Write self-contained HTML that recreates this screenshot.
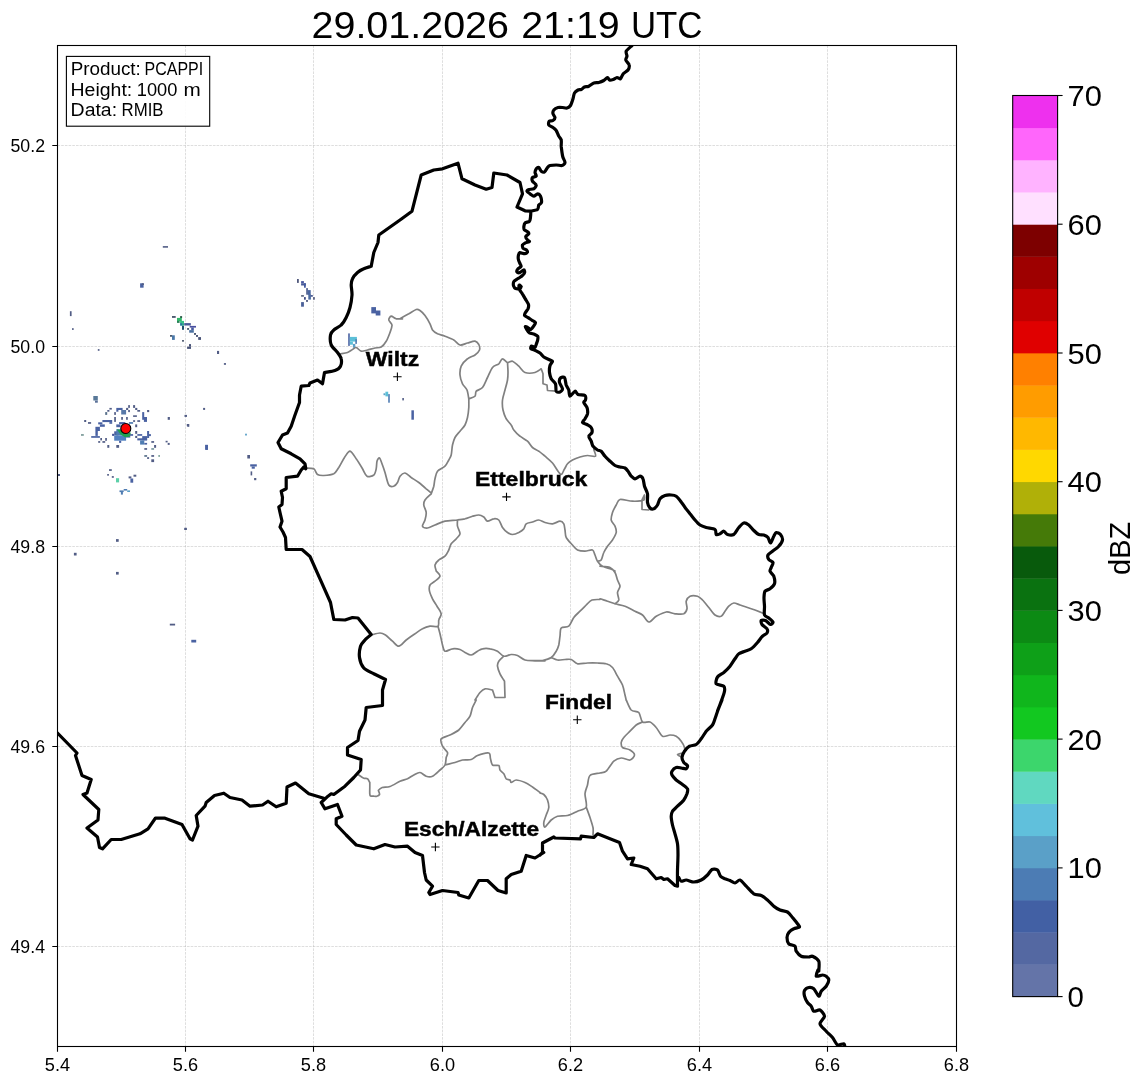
<!DOCTYPE html><html><head><meta charset="utf-8"><style>html,body{margin:0;padding:0;background:#fff}</style></head><body><svg width="1145" height="1084" viewBox="0 0 1145 1084" style="display:block;will-change:transform;font-family:'Liberation Sans',sans-serif">
<rect width="1145" height="1084" fill="#fff"/>
<defs><clipPath id="ax"><rect x="57.5" y="45.5" width="899.0" height="1001.0"/></clipPath></defs>
<path d="M185.5 45.5V1046.5M313.5 45.5V1046.5M442.5 45.5V1046.5M570.5 45.5V1046.5M699.5 45.5V1046.5M827.5 45.5V1046.5M57.5 946.5H956.5M57.5 746.5H956.5M57.5 546.5H956.5M57.5 346.5H956.5M57.5 145.5H956.5" stroke="#b0b0b0" stroke-opacity="0.6" stroke-width="0.7" stroke-dasharray="2.6 1.1" fill="none"/>
<g clip-path="url(#ax)">
<g><rect x="167.7" y="417.0" width="2.2" height="2.8" fill="#525d85"/><rect x="165.6" y="440.8" width="2.0" height="1.6" fill="#525d85"/><rect x="167.7" y="442.9" width="2.0" height="2.0" fill="#525d85"/><rect x="184.5" y="414.9" width="2.5" height="2.0" fill="#525d85"/><rect x="187.3" y="424.0" width="2.0" height="2.8" fill="#525d85"/><rect x="203.1" y="407.9" width="2.0" height="2.0" fill="#525d85"/><rect x="205.4" y="445.0" width="2.5" height="4.9" fill="#4a62a2"/><rect x="109.0" y="469.2" width="2.8" height="1.7" fill="#525d85"/><rect x="107.2" y="474.0" width="1.7" height="1.7" fill="#525d85"/><rect x="111.8" y="476.1" width="2.0" height="1.7" fill="#525d85"/><rect x="116.0" y="478.2" width="3.1" height="4.2" fill="#5cd0a8"/><rect x="128.6" y="476.4" width="2.8" height="2.0" fill="#525d85"/><rect x="130.4" y="478.5" width="2.8" height="4.2" fill="#4a62a2"/><rect x="133.5" y="474.7" width="2.8" height="2.0" fill="#525d85"/><rect x="119.5" y="490.4" width="4.2" height="1.7" fill="#4f7cb2"/><rect x="123.7" y="489.0" width="3.5" height="1.6" fill="#4f7cb2"/><rect x="120.9" y="491.8" width="2.0" height="2.8" fill="#4f7cb2"/><rect x="127.2" y="490.4" width="2.8" height="1.6" fill="#5aa0c8"/><rect x="58.0" y="474.0" width="2.0" height="2.0" fill="#525d85"/><rect x="93.3" y="396.0" width="4.5" height="4.5" fill="#587898"/><rect x="95.0" y="400.6" width="2.8" height="2.1" fill="#5a7098"/><rect x="109.4" y="407.9" width="2.4" height="1.7" fill="#525d85"/><rect x="107.3" y="410.0" width="2.1" height="1.7" fill="#525d85"/><rect x="105.2" y="412.1" width="2.0" height="2.8" fill="#58708a"/><rect x="116.3" y="407.9" width="6.3" height="2.1" fill="#4a62a2"/><rect x="116.3" y="410.0" width="2.1" height="1.7" fill="#4a62a2"/><rect x="121.2" y="410.0" width="4.9" height="4.5" fill="#5878a8"/><rect x="114.2" y="412.1" width="1.7" height="2.8" fill="#525d85"/><rect x="126.1" y="407.9" width="2.1" height="2.1" fill="#525d85"/><rect x="128.2" y="405.1" width="1.7" height="2.8" fill="#525d85"/><rect x="128.2" y="410.0" width="1.7" height="2.1" fill="#525d85"/><rect x="133.1" y="405.1" width="2.0" height="2.8" fill="#525d85"/><rect x="135.2" y="407.9" width="2.1" height="2.1" fill="#525d85"/><rect x="137.3" y="410.0" width="2.8" height="1.7" fill="#525d85"/><rect x="147.1" y="410.0" width="2.1" height="2.1" fill="#525d85"/><rect x="133.1" y="415.3" width="3.8" height="1.6" fill="#525d85"/><rect x="142.2" y="412.1" width="2.0" height="7.7" fill="#4a62a2"/><rect x="143.9" y="417.0" width="3.1" height="4.9" fill="#4a62a2"/><rect x="114.2" y="417.0" width="1.7" height="4.9" fill="#525d85"/><rect x="121.2" y="417.0" width="1.7" height="2.8" fill="#525d85"/><rect x="126.1" y="417.0" width="1.7" height="2.8" fill="#525d85"/><rect x="133.1" y="420.2" width="2.0" height="1.7" fill="#525d85"/><rect x="137.3" y="420.2" width="2.8" height="1.7" fill="#525d85"/><rect x="135.2" y="424.4" width="2.0" height="2.8" fill="#525d85"/><rect x="102.4" y="420.0" width="9.8" height="2.1" fill="#4a62a2"/><rect x="109.4" y="422.1" width="2.8" height="1.7" fill="#4a62a2"/><rect x="98.2" y="422.3" width="4.2" height="2.1" fill="#4a62a2"/><rect x="99.9" y="424.4" width="4.9" height="2.4" fill="#4a62a2"/><rect x="95.4" y="426.8" width="4.5" height="4.2" fill="#4a62a2"/><rect x="95.4" y="431.0" width="2.4" height="4.9" fill="#4a62a2"/><rect x="91.2" y="436.1" width="8.7" height="1.7" fill="#4a62a2"/><rect x="100.3" y="438.0" width="1.7" height="2.4" fill="#525d85"/><rect x="105.2" y="438.0" width="1.7" height="2.8" fill="#525d85"/><rect x="102.4" y="441.1" width="2.8" height="1.7" fill="#525d85"/><rect x="98.2" y="441.1" width="2.0" height="1.7" fill="#525d85"/><rect x="84.2" y="420.0" width="2.0" height="2.0" fill="#525d85"/><rect x="88.0" y="422.1" width="3.1" height="1.7" fill="#525d85"/><rect x="81.0" y="434.1" width="2.8" height="1.7" fill="#7a9a98"/><rect x="119.1" y="422.1" width="6.3" height="2.1" fill="#4a62a2"/><rect x="116.3" y="424.4" width="4.2" height="2.8" fill="#4a62a2"/><rect x="128.9" y="422.1" width="4.2" height="1.7" fill="#4f7cb2"/><rect x="114.2" y="431.3" width="4.2" height="4.2" fill="#4a62a2"/><rect x="112.1" y="433.8" width="2.1" height="2.1" fill="#3f5294"/><rect x="114.2" y="435.5" width="11.9" height="5.2" fill="#5080c0"/><rect x="116.3" y="429.2" width="8.4" height="6.3" fill="#4f7cb2"/><rect x="126.1" y="435.5" width="4.2" height="2.1" fill="#4a62a2"/><rect x="130.0" y="434.1" width="3.1" height="1.7" fill="#4a62a2"/><rect x="119.1" y="440.8" width="2.1" height="2.1" fill="#4a62a2"/><rect x="135.2" y="431.0" width="2.0" height="2.8" fill="#525d85"/><rect x="135.2" y="435.9" width="2.0" height="2.1" fill="#525d85"/><rect x="137.3" y="434.1" width="4.9" height="1.7" fill="#4a62a2"/><rect x="147.1" y="431.0" width="2.0" height="7.0" fill="#4a62a2"/><rect x="148.8" y="434.1" width="2.1" height="2.0" fill="#4a62a2"/><rect x="142.2" y="436.1" width="4.9" height="4.2" fill="#4a62a2"/><rect x="137.3" y="438.3" width="9.8" height="2.1" fill="#4a62a2"/><rect x="140.1" y="440.4" width="4.2" height="4.2" fill="#4f7cb2"/><rect x="144.3" y="442.9" width="2.8" height="1.7" fill="#4a62a2"/><rect x="151.3" y="441.1" width="2.8" height="1.7" fill="#525d85"/><rect x="154.1" y="445.0" width="2.0" height="2.8" fill="#525d85"/><rect x="144.3" y="448.1" width="2.8" height="1.7" fill="#525d85"/><rect x="151.3" y="448.1" width="2.8" height="1.7" fill="#7a9aa0"/><rect x="107.3" y="445.0" width="2.0" height="2.8" fill="#525d85"/><rect x="116.3" y="445.0" width="2.8" height="2.8" fill="#525d85"/><rect x="144.3" y="455.1" width="2.8" height="1.7" fill="#58708a"/><rect x="147.1" y="457.2" width="2.0" height="1.7" fill="#525d85"/><rect x="151.3" y="455.1" width="2.8" height="1.7" fill="#525d85"/><rect x="151.3" y="459.3" width="2.8" height="2.8" fill="#525d85"/><rect x="158.3" y="455.1" width="1.7" height="1.7" fill="#7aa098"/><rect x="162.8" y="246.1" width="5.2" height="1.6" fill="#525d85"/><rect x="140.1" y="283.3" width="3.5" height="4.4" fill="#4a62a2"/><rect x="141.8" y="283.3" width="2.1" height="1.7" fill="#525d85"/><rect x="69.9" y="311.2" width="1.7" height="4.9" fill="#525d85"/><rect x="72.0" y="328.2" width="1.7" height="1.7" fill="#525d85"/><rect x="97.8" y="349.1" width="1.7" height="1.7" fill="#525d85"/><rect x="217.0" y="350.9" width="2.1" height="3.1" fill="#525d85"/><rect x="223.9" y="363.1" width="2.1" height="1.7" fill="#525d85"/><rect x="172.0" y="316.1" width="3.7" height="1.7" fill="#3a4a60"/><rect x="180.1" y="316.1" width="2.0" height="2.0" fill="#2a5a48"/><rect x="177.0" y="317.9" width="4.8" height="3.1" fill="#30b868"/><rect x="177.0" y="320.9" width="2.6" height="2.0" fill="#2a8058"/><rect x="180.1" y="320.9" width="3.9" height="2.6" fill="#38c088"/><rect x="180.1" y="323.1" width="2.4" height="2.6" fill="#207898"/><rect x="182.0" y="323.1" width="2.0" height="2.6" fill="#30a890"/><rect x="182.0" y="325.9" width="2.0" height="3.9" fill="#1f4f70"/><rect x="184.2" y="323.1" width="6.6" height="2.4" fill="#485898"/><rect x="189.7" y="325.9" width="6.3" height="1.7" fill="#4a4fa0"/><rect x="191.2" y="327.5" width="2.6" height="2.6" fill="#485aa0"/><rect x="189.2" y="330.1" width="4.6" height="2.6" fill="#4a70a0"/><rect x="187.1" y="328.1" width="2.0" height="1.7" fill="#3a4a60"/><rect x="194.0" y="333.1" width="2.0" height="1.7" fill="#3a4a68"/><rect x="196.0" y="335.1" width="2.0" height="1.7" fill="#3a4468"/><rect x="198.2" y="337.1" width="2.8" height="2.8" fill="#4a5478"/><rect x="170.0" y="335.1" width="2.2" height="1.6" fill="#3a4a60"/><rect x="172.0" y="335.3" width="2.8" height="4.6" fill="#4a78a8"/><rect x="182.0" y="340.0" width="2.0" height="1.7" fill="#5a6478"/><rect x="189.0" y="344.1" width="2.0" height="2.6" fill="#4a5478"/><rect x="187.1" y="346.7" width="3.9" height="2.2" fill="#4a5478"/><rect x="371.3" y="307.1" width="4.7" height="6.3" fill="#4a62a2"/><rect x="375.7" y="310.5" width="4.7" height="5.0" fill="#4a62a2"/><rect x="348.2" y="333.4" width="1.6" height="12.5" fill="#4a62a2"/><rect x="349.8" y="336.9" width="7.1" height="4.7" fill="#5cc0d8"/><rect x="349.8" y="341.6" width="3.1" height="3.1" fill="#5cc0d8"/><rect x="352.9" y="343.9" width="2.4" height="3.9" fill="#5aa0c8"/><rect x="355.3" y="339.2" width="1.6" height="4.7" fill="#4f7cb2"/><rect x="383.5" y="393.3" width="1.9" height="1.9" fill="#5aa0c8"/><rect x="385.4" y="391.7" width="2.8" height="4.7" fill="#5cc0d8"/><rect x="388.2" y="394.1" width="1.6" height="8.6" fill="#4f7cb2"/><rect x="402.3" y="398.0" width="1.6" height="2.4" fill="#525d85"/><rect x="411.4" y="410.3" width="2.5" height="9.4" fill="#4a62a2"/><rect x="186.8" y="424.0" width="2.2" height="2.2" fill="#525d85"/><rect x="205.2" y="444.8" width="2.7" height="4.9" fill="#4a62a2"/><rect x="245.1" y="433.7" width="1.8" height="1.8" fill="#5aa0c8"/><rect x="247.3" y="455.0" width="2.7" height="3.5" fill="#525d85"/><rect x="250.2" y="464.3" width="6.6" height="2.2" fill="#4a62a2"/><rect x="251.7" y="466.5" width="3.1" height="2.2" fill="#4a62a2"/><rect x="250.6" y="471.4" width="1.6" height="4.0" fill="#525d85"/><rect x="254.1" y="478.0" width="2.2" height="2.2" fill="#525d85"/><rect x="184.2" y="527.8" width="2.7" height="2.2" fill="#525d85"/><rect x="116.0" y="539.1" width="2.7" height="2.7" fill="#525d85"/><rect x="73.9" y="552.8" width="2.7" height="2.7" fill="#525d85"/><rect x="116.0" y="571.9" width="2.7" height="2.7" fill="#525d85"/><rect x="169.8" y="623.7" width="5.3" height="1.8" fill="#525d85"/><rect x="191.3" y="639.8" width="4.9" height="2.7" fill="#4a62a2"/><rect x="297.0" y="279.0" width="1.8" height="3.9" fill="#50587c"/><rect x="301.1" y="281.1" width="2.8" height="2.2" fill="#4a58a0"/><rect x="301.1" y="283.3" width="4.8" height="2.2" fill="#485a98"/><rect x="304.0" y="283.3" width="1.8" height="4.4" fill="#455aa0"/><rect x="306.2" y="288.1" width="1.7" height="6.6" fill="#506090"/><rect x="307.7" y="290.1" width="3.0" height="4.8" fill="#4a66a0"/><rect x="308.3" y="294.4" width="2.6" height="5.2" fill="#4a6aa0"/><rect x="310.8" y="295.1" width="2.0" height="1.6" fill="#3a4a88"/><rect x="301.1" y="295.1" width="2.8" height="1.6" fill="#556078"/><rect x="304.0" y="297.1" width="1.8" height="2.6" fill="#3f4a80"/><rect x="306.1" y="300.1" width="1.8" height="1.7" fill="#3a4570"/><rect x="313.1" y="297.1" width="1.7" height="2.6" fill="#50587c"/><rect x="301.1" y="302.1" width="2.8" height="4.6" fill="#4a6098"/><path d="M116.8 429.3L120.5 434.5 125 437.3 129.5 436.8 131 432.5 126 434 121.5 430Z" fill="#1fa050"/></g>
<path d="M400.0 318.8C401.3 318.0 406.3 315.1 408.8 313.8C411.2 312.4 414.6 310.0 416.2 309.5C417.9 309.0 418.7 309.6 420.0 310.5C421.3 311.4 423.5 313.5 425.0 315.5C426.5 317.5 428.9 321.6 430.0 323.8C431.1 325.9 431.4 328.5 432.5 330.0C433.6 331.5 435.6 332.8 437.5 333.8C439.4 334.7 442.6 335.3 445.0 336.2C447.4 337.2 451.5 338.7 453.8 340.0C456.0 341.3 457.9 344.6 460.0 345.0C462.1 345.4 465.2 343.6 467.5 343.0C469.8 342.4 473.3 341.0 475.0 341.2C476.7 341.5 478.1 343.2 478.8 344.5C479.4 345.8 480.1 348.4 479.5 350.0C478.9 351.6 476.8 353.7 475.0 355.0C473.2 356.3 469.6 357.1 467.5 358.8C465.4 360.4 462.4 363.8 461.2 366.2C460.1 368.7 459.8 372.4 460.0 375.0C460.2 377.6 461.4 381.5 462.5 383.8C463.6 386.0 466.1 387.8 467.0 390.0C467.9 392.2 468.5 397.4 468.8 398.8M468.8 398.8C469.7 398.4 473.9 397.4 475.0 396.2C476.1 395.1 475.1 392.6 476.2 391.2C477.4 389.9 480.8 389.6 482.5 387.5C484.2 385.4 486.0 380.5 487.5 377.5C489.0 374.5 490.8 369.6 492.5 367.5C494.2 365.4 497.2 365.1 498.8 363.8C500.2 362.4 501.2 358.9 502.5 358.8C503.8 358.6 506.0 362.1 507.5 362.5C509.0 362.9 510.8 360.7 512.5 361.2C514.2 361.8 516.9 364.6 518.8 366.2C520.6 367.9 522.6 371.6 525.0 372.5C527.4 373.4 532.6 373.1 535.0 372.5C537.4 371.9 540.3 369.3 541.2 368.8M541.2 368.8 543.0 373.8 543.0 383.8 547.0 385.0 547.5 390.5 556.2 391.2M507.5 362.5C507.6 364.0 508.0 369.9 508.0 372.5C508.0 375.1 507.9 377.4 507.5 380.0C507.1 382.6 505.8 387.0 505.0 390.0C504.2 393.0 502.8 397.0 502.5 400.0C502.2 403.0 502.4 407.2 503.0 410.0C503.6 412.8 505.0 416.5 506.2 418.8C507.5 421.0 510.1 423.3 511.2 425.0C512.4 426.7 512.4 428.3 513.8 430.0C515.1 431.7 517.9 434.6 520.0 436.2C522.1 437.9 525.6 439.6 527.5 441.2C529.4 442.9 530.8 446.0 532.5 447.5C534.2 449.0 536.9 449.9 538.8 451.2C540.6 452.6 542.9 454.5 545.0 456.2C547.1 458.0 550.2 460.3 552.5 463.0C554.8 465.7 558.7 473.3 560.5 474.2C562.3 475.2 563.2 471.1 564.2 469.5C565.3 467.9 566.3 465.2 567.5 463.8C568.7 462.3 570.6 461.0 572.5 460.0C574.4 459.0 577.8 457.7 580.0 457.0C582.2 456.3 585.2 455.6 587.5 455.5C589.8 455.4 594.6 457.1 595.5 456.2C596.4 455.4 594.0 450.5 593.8 449.5M468.8 398.8C468.8 400.1 468.9 404.7 468.8 407.5C468.6 410.3 468.1 414.9 467.5 417.5C466.9 420.1 466.1 422.9 465.0 425.0C463.9 427.1 461.5 429.4 460.0 431.2C458.5 433.1 456.1 435.4 455.0 437.5C453.9 439.6 453.1 442.4 452.5 445.0C451.9 447.6 451.8 452.8 451.2 455.0C450.7 457.2 449.7 458.3 448.8 460.0C447.8 461.7 446.7 464.6 445.0 466.2C443.3 467.9 439.0 469.4 437.5 471.2C436.0 473.1 435.6 476.5 435.0 478.8C434.4 481.0 434.3 484.0 433.8 486.2C433.2 488.5 431.6 492.6 431.2 493.8M431.2 493.8C430.3 494.7 426.1 498.3 425.0 500.0C423.9 501.7 423.6 503.1 423.8 505.0C423.9 506.9 426.1 510.2 426.2 512.5C426.4 514.8 425.6 517.9 425.0 520.0C424.4 522.1 422.1 525.0 422.5 526.2C422.9 527.5 425.6 528.2 427.5 528.0C429.4 527.8 432.4 526.0 435.0 525.0C437.6 524.0 441.6 522.0 445.0 521.2C448.4 520.5 454.5 520.4 457.5 520.0C460.5 519.6 462.8 519.3 465.0 518.8C467.2 518.2 470.4 516.8 472.5 516.2C474.6 515.7 477.1 514.9 478.8 515.0C480.4 515.1 482.4 516.1 483.8 517.0C485.1 517.9 486.0 521.0 487.5 521.2C489.0 521.5 492.1 518.9 493.8 518.8C495.4 518.6 497.4 518.7 498.8 520.0C500.1 521.3 501.2 525.6 502.5 527.5C503.8 529.4 506.0 531.5 507.5 532.5C509.0 533.5 510.8 534.5 512.5 534.5C514.2 534.5 517.1 533.4 518.8 532.5C520.4 531.6 522.6 530.1 523.8 528.8C524.9 527.4 524.9 524.8 526.2 523.8C527.6 522.7 530.6 522.6 532.5 522.0C534.4 521.4 536.9 519.9 538.8 520.0C540.6 520.1 542.9 521.9 545.0 522.5C547.1 523.1 550.2 523.9 552.5 523.8C554.8 523.6 558.3 521.2 560.0 521.2C561.7 521.2 563.0 522.4 563.8 523.8C564.5 525.1 564.6 527.9 565.0 530.0C565.4 532.1 565.1 535.2 566.2 537.5C567.4 539.8 570.8 543.1 572.5 545.0C574.2 546.9 575.6 549.1 577.5 550.0C579.4 550.9 582.8 551.2 585.0 551.2C587.2 551.2 591.0 549.4 592.5 550.0C594.0 550.6 594.2 553.3 595.0 555.0C595.8 556.7 596.4 559.6 597.5 561.2C598.6 562.9 600.6 565.1 602.5 566.2C604.4 567.4 608.1 568.0 610.0 568.8C611.9 569.5 614.2 570.7 615.0 571.0M457.5 520.0C457.5 520.9 457.1 524.2 457.5 526.2C457.9 528.3 460.2 531.9 460.0 533.8C459.8 535.6 457.6 537.2 456.2 538.8C454.9 540.2 452.4 542.1 451.2 543.8C450.1 545.4 449.7 548.1 448.8 550.0C447.8 551.9 446.5 554.8 445.0 556.2C443.5 557.8 440.2 558.7 438.8 560.0C437.2 561.3 435.4 563.4 435.0 565.0C434.6 566.6 436.1 570.1 436.2 571.0M644.5 495.0C644.4 495.8 645.5 499.1 643.8 500.0C642.0 500.9 636.1 501.3 632.5 501.2C628.9 501.2 622.4 498.9 620.0 499.5C617.6 500.1 617.4 503.1 616.2 505.0C615.1 506.9 613.2 510.2 612.5 512.5C611.8 514.8 610.9 517.9 611.2 520.0C611.6 522.1 614.2 524.4 615.0 526.2C615.8 528.1 616.6 530.4 616.2 532.5C615.9 534.6 613.8 537.9 612.5 540.0C611.2 542.1 608.8 544.4 607.5 546.2C606.2 548.1 604.7 550.4 603.8 552.5C602.8 554.6 602.2 558.7 601.2 560.0C600.3 561.3 598.1 561.1 597.5 561.2M644.5 495.0 642.0 500.0 642.0 509.5 648.8 510.0M600.0 566.2C601.5 566.4 607.8 566.6 610.0 567.5C612.2 568.4 613.9 570.6 615.0 572.5C616.1 574.4 616.8 577.9 617.5 580.0C618.2 582.1 620.0 584.4 620.0 586.2C620.0 588.1 617.7 590.4 617.5 592.5C617.3 594.6 619.1 598.3 618.8 600.0C618.4 601.7 615.6 603.2 615.0 603.8M600.0 598.8C601.1 599.1 605.2 600.5 607.5 601.2C609.8 602.0 612.4 603.0 615.0 603.8C617.6 604.5 622.0 605.1 625.0 606.2C628.0 607.4 632.4 609.9 635.0 611.2C637.6 612.6 640.4 613.4 642.5 615.0C644.6 616.6 646.7 621.8 648.8 622.0C650.8 622.2 653.6 617.8 656.2 616.2C658.9 614.8 663.4 612.4 666.2 612.0C669.1 611.6 672.4 613.5 675.0 613.8C677.6 614.0 682.0 614.5 683.8 613.8C685.5 613.0 686.6 610.6 687.0 608.8C687.4 606.9 685.8 603.1 686.2 601.2C686.7 599.4 688.3 597.0 690.0 596.2C691.7 595.5 695.6 595.7 697.5 596.2C699.4 596.8 700.8 598.3 702.5 600.0C704.2 601.7 706.9 605.2 708.8 607.5C710.6 609.8 713.1 613.7 715.0 615.0C716.9 616.3 719.8 616.8 721.2 616.2C722.8 615.7 723.9 612.8 725.0 611.2C726.1 609.8 727.4 607.5 728.8 606.2C730.1 605.0 732.1 603.2 733.8 603.0C735.4 602.8 737.9 604.3 740.0 605.0C742.1 605.7 745.2 606.8 747.5 607.5C749.8 608.2 752.5 609.1 755.0 610.0C757.5 610.9 763.1 613.2 764.5 613.8M626.2 700.0C627.0 701.5 629.4 708.1 631.2 710.0C633.1 711.9 637.1 710.7 638.8 712.5C640.4 714.3 640.8 720.6 642.5 722.0C644.2 723.4 647.9 721.2 650.0 722.0C652.1 722.8 654.4 725.4 656.2 727.5C658.1 729.6 660.4 735.1 662.5 736.2C664.6 737.4 667.9 735.0 670.0 735.0C672.1 735.0 674.6 735.3 676.2 736.2C677.9 737.2 680.0 739.6 681.2 741.2C682.5 742.9 684.1 745.8 684.5 747.5C684.9 749.2 684.8 751.5 683.8 752.5C682.7 753.5 677.8 753.8 677.5 754.5C677.2 755.2 681.3 756.6 682.0 757.0M642.5 722.0C641.6 722.5 638.1 723.6 636.2 725.0C634.4 726.4 631.9 729.4 630.0 731.2C628.1 733.1 625.1 735.8 623.8 737.5C622.4 739.2 621.4 741.0 621.2 742.5C621.1 744.0 621.2 746.4 622.5 747.5C623.8 748.6 628.2 748.9 630.0 750.0C631.8 751.1 634.5 753.5 634.5 755.0C634.5 756.5 632.0 759.5 630.0 760.0C628.0 760.5 623.7 757.8 621.2 758.0C618.8 758.2 616.0 759.3 613.8 761.2C611.5 763.2 608.3 769.5 606.2 771.2C604.2 773.0 602.4 772.4 600.0 773.0C597.6 773.6 591.9 773.7 590.0 775.5C588.1 777.3 588.2 782.3 587.5 785.0C586.8 787.7 585.2 790.5 585.0 793.8C584.8 797.0 587.4 804.4 586.2 807.0C585.1 809.6 580.3 810.0 577.5 811.2C574.7 812.5 570.5 814.8 567.5 815.5C564.5 816.2 559.9 815.6 557.5 816.2C555.1 816.9 553.1 818.4 551.2 820.0C549.4 821.6 546.1 826.6 545.0 827.0C543.9 827.4 543.6 824.3 543.8 822.5C543.9 820.7 545.5 817.2 546.2 815.0C547.0 812.8 548.6 809.8 548.8 807.5C548.9 805.2 548.2 802.0 547.5 800.0C546.8 798.0 544.9 795.5 543.8 794.5C542.6 793.5 540.6 793.2 540.0 793.0M586.2 807.0C586.8 808.6 589.0 814.4 590.0 817.5C591.0 820.6 592.5 824.9 593.0 827.5C593.5 830.1 593.0 833.9 593.0 835.0M358.8 775.0C359.5 775.5 362.4 777.7 363.8 778.2C365.1 778.8 366.6 778.1 367.5 778.8C368.4 779.4 369.4 781.9 369.8 782.5M369.8 782.5C369.8 783.2 369.8 785.8 369.8 787.5C369.8 789.2 369.6 792.7 369.8 794.0C369.9 795.3 369.9 795.7 370.5 796.0C371.1 796.3 372.8 796.2 373.8 796.2C374.7 796.3 375.9 796.5 376.8 796.2C377.6 796.0 379.2 795.1 379.5 794.5C379.8 793.9 379.1 792.6 379.0 792.0C378.9 791.4 378.0 790.9 378.5 790.2C379.0 789.6 380.5 788.1 382.2 787.5C384.0 786.9 387.3 787.4 390.0 786.5C392.7 785.6 397.4 782.4 400.0 781.2C402.6 780.1 405.4 779.7 407.5 778.8C409.6 777.8 411.9 775.9 413.8 775.0C415.6 774.1 418.1 772.3 420.0 772.5C421.9 772.7 424.4 775.7 426.2 776.2C428.1 776.8 430.4 777.2 432.5 776.2C434.6 775.3 438.1 771.7 440.0 770.0C441.9 768.3 444.1 766.9 445.0 765.0C445.9 763.1 445.9 759.4 446.2 757.5C446.6 755.6 448.1 754.2 447.5 752.5C446.9 750.8 443.4 748.3 442.5 746.2C441.6 744.2 440.1 740.4 441.2 738.8C442.4 737.1 447.4 736.3 450.0 735.0C452.6 733.7 456.5 731.9 458.8 730.0C461.0 728.1 463.3 724.6 465.0 722.5C466.7 720.4 468.9 718.5 470.0 716.2C471.1 714.0 471.6 709.9 472.5 707.5C473.4 705.1 475.7 701.1 476.2 700.0M445.0 765.0C446.5 764.6 452.4 763.2 455.0 762.5C457.6 761.8 460.1 760.5 462.5 760.0C464.9 759.5 469.0 760.2 471.2 759.5C473.5 758.8 474.9 756.5 477.5 755.5C480.1 754.5 486.8 752.5 488.8 753.0C490.7 753.5 489.9 757.0 490.5 758.8C491.1 760.5 491.3 764.0 492.5 765.0C493.7 766.0 497.6 764.8 498.8 765.5C499.9 766.2 499.2 768.8 500.0 770.0C500.8 771.2 502.8 772.4 503.8 773.8C504.7 775.1 505.3 777.8 506.2 778.8C507.2 779.7 509.2 779.4 510.0 780.0C510.8 780.6 510.3 782.5 511.2 782.5C512.2 782.5 514.2 780.0 516.2 780.0C518.3 780.0 522.6 781.5 525.0 782.5C527.4 783.5 530.2 785.5 532.5 787.0C534.8 788.5 538.9 791.7 540.0 792.5M305.8 468.0C306.9 468.1 312.0 467.8 313.8 468.8C315.5 469.7 316.0 473.5 317.5 474.5C319.0 475.5 321.3 475.6 323.8 475.5C326.2 475.4 331.5 474.9 333.8 473.8C336.0 472.6 337.1 469.9 338.8 467.5C340.4 465.1 342.8 459.9 344.5 457.5C346.2 455.1 348.2 451.1 350.0 451.2C351.8 451.4 354.4 456.1 356.2 458.8C358.1 461.4 360.9 466.1 362.5 468.8C364.1 471.4 365.3 475.3 367.0 476.2C368.7 477.2 372.4 476.1 373.8 475.0C375.1 473.9 375.8 470.8 376.2 468.8C376.7 466.7 376.5 462.9 377.0 461.2C377.5 459.6 378.8 457.6 379.5 458.0C380.2 458.4 381.2 461.6 382.0 463.8C382.8 465.9 384.0 469.3 385.0 472.5C386.0 475.7 387.4 482.9 388.8 485.0C390.1 487.1 392.4 486.6 393.8 486.2C395.1 485.9 396.6 484.0 397.5 482.5C398.4 481.0 398.9 477.7 400.0 476.2C401.1 474.8 403.3 472.8 405.0 473.0C406.7 473.2 409.2 476.1 411.2 477.5C413.3 478.9 416.5 480.8 418.8 482.5C421.0 484.2 424.4 487.2 426.2 488.8C428.1 490.3 430.5 492.4 431.2 493.0M436.2 571.0C436.8 571.8 440.2 574.7 440.0 576.2C439.8 577.8 436.5 579.9 435.0 581.2C433.5 582.6 430.8 583.5 430.0 585.0C429.2 586.5 429.1 589.2 429.5 591.2C429.9 593.3 431.4 596.5 432.5 598.8C433.6 601.0 435.7 604.0 437.0 606.2C438.3 608.5 441.0 611.7 441.2 613.8C441.5 615.8 439.2 618.1 438.8 620.0C438.3 621.9 439.3 625.3 438.0 626.2C436.7 627.2 432.3 625.9 430.0 626.2C427.7 626.6 424.8 627.6 422.5 628.8C420.2 629.9 417.4 632.1 415.0 633.8C412.6 635.4 408.7 638.1 406.2 640.0C403.8 641.9 400.8 646.1 398.8 646.2C396.7 646.4 394.5 642.9 392.5 641.2C390.5 639.6 387.4 636.2 385.5 635.0C383.6 633.8 382.1 633.0 380.0 633.0C377.9 633.0 372.6 634.7 371.2 635.0M438.0 626.2C438.3 627.4 439.3 630.9 440.0 633.8C440.7 636.6 441.8 642.4 442.5 645.0C443.2 647.6 443.5 650.7 445.0 651.2C446.5 651.8 450.2 649.0 452.5 648.8C454.8 648.5 458.1 648.9 460.0 649.5C461.9 650.1 463.3 651.7 465.0 652.5C466.7 653.3 469.4 655.2 471.2 655.0C473.1 654.8 475.8 652.2 477.5 651.2C479.2 650.3 480.6 649.1 482.5 648.8C484.4 648.4 487.8 648.4 490.0 648.8C492.2 649.1 495.4 650.1 497.5 651.2C499.6 652.4 501.7 655.8 503.8 656.2C505.8 656.7 509.2 654.6 511.2 654.5C513.3 654.4 515.4 654.7 517.5 655.5C519.6 656.3 522.4 659.2 525.0 660.0C527.6 660.8 532.0 660.6 535.0 660.8C538.0 660.9 543.5 660.8 545.0 660.8M503.8 656.2C503.0 657.0 499.7 659.8 498.8 661.2C497.8 662.8 497.3 664.4 497.5 666.2C497.7 668.1 498.9 671.5 500.0 673.8C501.1 676.0 503.8 680.1 504.5 681.2M504.5 681.2 505.0 697.5 495.0 697.5 492.5 690.0M492.5 690.0C491.4 689.8 486.9 688.4 485.0 688.8C483.1 689.1 481.5 690.8 480.0 692.5C478.5 694.2 475.8 698.9 475.0 700.0M340.5 353.8C341.6 353.6 345.7 353.1 347.5 352.5C349.3 351.9 351.2 350.2 352.5 349.5C353.8 348.8 354.9 347.2 356.2 347.5C357.6 347.8 359.6 350.9 361.2 351.2C362.9 351.6 365.4 350.5 367.5 350.0C369.6 349.5 372.9 348.4 375.0 348.0C377.1 347.6 379.6 348.0 381.2 347.0C382.9 346.0 384.9 343.4 386.2 341.2C387.6 339.1 389.1 334.9 390.0 332.5C390.9 330.1 392.2 326.9 392.0 325.0C391.8 323.1 388.9 321.3 388.8 320.0C388.6 318.7 390.1 316.4 391.2 316.2C392.4 316.1 394.6 318.4 396.2 318.8C397.9 319.1 401.6 318.8 402.5 318.8M600.0 599.5C598.8 599.6 594.1 599.2 592.0 600.0C589.9 600.8 588.0 603.3 586.2 605.0C584.5 606.7 581.9 609.4 580.0 611.2C578.1 613.1 575.4 615.2 573.8 617.5C572.1 619.8 570.6 624.7 568.8 626.2C566.9 627.8 562.6 626.5 561.2 628.0C559.9 629.5 560.4 633.7 560.0 636.2C559.6 638.8 559.3 642.8 558.8 645.0C558.2 647.2 557.4 649.4 556.2 651.2C555.1 653.1 553.3 656.1 551.2 657.5C549.2 658.9 545.1 660.0 542.5 660.5C539.9 661.0 536.0 660.5 533.8 660.5C531.5 660.5 528.4 660.5 527.5 660.5M551.2 657.5C552.2 657.9 555.4 659.7 557.5 660.0C559.6 660.3 562.9 659.6 565.0 659.5C567.1 659.4 569.4 658.9 571.2 659.5C573.1 660.1 575.1 663.2 577.5 663.8C579.9 664.3 584.5 663.1 587.5 663.0C590.5 662.9 594.7 662.9 597.5 663.0C600.3 663.1 604.0 663.1 606.2 663.8C608.5 664.4 610.8 665.6 612.5 667.5C614.2 669.4 616.0 673.6 617.5 676.2C619.0 678.9 621.4 682.2 622.5 685.0C623.6 687.8 624.4 692.7 625.0 695.0C625.6 697.3 626.1 699.7 626.2 700.5" fill="none" stroke="#808080" stroke-width="1.7" stroke-linejoin="round" stroke-linecap="round"/>
<path d="M632.0 45.5C631.2 46.3 626.9 49.8 626.2 51.2C625.6 52.7 627.1 55.1 627.0 56.2C626.9 57.4 625.5 58.8 625.8 60.0C626.0 61.2 629.0 63.7 629.2 65.0C629.5 66.3 628.8 68.8 628.0 70.0C627.2 71.2 624.2 72.6 623.2 73.8C622.2 74.9 621.3 78.2 620.5 78.8C619.7 79.2 618.0 77.4 617.0 77.5C616.0 77.6 614.2 79.2 613.2 79.5C612.2 79.8 610.3 80.3 609.5 80.0C608.7 79.7 608.3 77.4 607.5 77.5C606.7 77.6 604.9 79.8 603.8 80.5C602.6 81.2 600.1 82.2 598.8 82.5C597.4 82.8 595.1 82.5 593.8 83.0C592.4 83.5 590.0 85.7 588.8 86.2C587.5 86.8 585.5 86.6 584.5 87.0C583.5 87.4 582.1 89.1 581.2 89.5C580.4 89.9 578.9 89.5 578.0 90.0C577.1 90.5 575.2 91.8 574.5 93.0C573.8 94.2 573.5 97.1 573.0 98.8C572.5 100.4 571.3 104.3 570.5 105.5C569.7 106.7 568.1 107.7 567.0 108.0C565.9 108.3 563.7 107.6 562.5 107.5C561.3 107.4 559.2 107.2 558.0 107.5C556.8 107.8 554.4 109.2 553.8 110.0C553.1 110.8 552.8 112.8 553.0 113.8C553.2 114.8 555.0 116.6 555.0 117.5C555.0 118.4 553.8 120.0 553.0 120.5C552.2 121.0 549.8 120.7 549.2 121.2C548.7 121.8 548.2 124.2 548.8 125.0C549.2 125.8 552.0 126.8 553.0 127.5C554.0 128.2 555.5 129.3 556.2 130.5C557.0 131.7 558.1 135.0 558.8 136.2C559.4 137.5 560.9 138.7 561.2 140.0C561.6 141.3 561.1 144.6 561.2 146.2C561.4 147.9 561.8 151.0 562.0 152.5C562.2 154.0 562.6 156.2 563.0 157.5C563.4 158.8 565.1 161.4 565.0 162.5C564.9 163.6 563.2 165.2 562.0 165.5C560.8 165.8 557.9 165.0 556.2 165.0C554.6 165.0 551.2 165.2 550.0 165.5C548.8 165.8 548.2 166.6 547.5 167.5C546.8 168.4 545.3 171.5 544.5 172.0C543.7 172.5 542.0 171.8 541.2 171.2C540.5 170.7 539.4 167.8 538.8 167.5C538.1 167.2 536.8 168.1 536.2 168.8C535.8 169.4 535.0 171.5 535.0 172.5C535.0 173.5 536.6 175.6 536.2 176.2C535.9 176.9 533.0 176.8 532.5 177.5C532.0 178.2 532.0 180.2 532.5 181.2C533.0 182.2 536.1 184.0 536.2 185.0C536.4 186.0 534.8 188.2 533.8 188.8C532.8 189.3 529.6 189.2 528.8 189.5C527.9 189.8 526.8 190.7 527.0 191.2C527.2 191.8 529.1 193.1 530.0 193.8C530.9 194.4 532.8 196.2 533.8 196.2C534.8 196.2 536.6 193.8 537.5 193.8C538.4 193.8 540.0 195.1 540.5 196.2C541.0 197.4 541.7 201.3 541.5 202.5C541.3 203.7 539.3 204.1 538.8 205.0C538.2 205.9 538.6 208.7 537.5 209.5C536.4 210.3 531.4 211.0 530.5 211.2M400.0 220.0 412.0 211.2 421.2 175.0 433.8 170.0 442.5 168.8 458.0 163.2 462.0 178.8 475.0 185.0 486.2 189.2 492.0 187.5 493.8 173.0 507.0 175.0 520.0 182.5 522.5 193.8 517.0 207.0 525.0 210.8 530.5 211.2M530.8 211.8C530.8 212.6 530.6 216.7 530.4 218.0C530.2 219.3 530.1 220.8 529.4 221.4C528.8 222.1 526.0 222.2 525.3 222.8C524.5 223.5 524.0 225.4 523.9 226.3C523.8 227.2 523.8 229.0 524.3 229.7C524.9 230.5 527.5 231.5 528.1 232.1C528.6 232.7 529.1 233.3 528.7 233.9C528.4 234.5 525.8 235.8 525.7 236.7C525.6 237.5 527.1 239.5 527.6 240.1C528.1 240.8 529.7 241.1 529.4 241.5C529.1 241.9 526.2 242.4 525.3 242.9C524.4 243.4 522.8 244.2 522.5 245.0C522.2 245.7 522.7 247.8 523.2 248.4C523.7 249.1 525.7 249.3 526.3 249.8C526.8 250.3 527.6 251.8 527.4 252.3C527.1 252.8 525.6 253.7 524.6 253.7C523.6 253.7 520.6 252.4 519.7 252.6C518.9 252.8 518.6 254.4 518.4 255.3C518.2 256.3 518.2 258.5 518.4 259.5C518.6 260.5 519.4 262.0 519.7 263.0C520.1 263.9 521.4 265.6 521.1 266.4C520.9 267.2 518.2 268.4 517.7 269.2C517.1 269.9 516.7 271.5 517.0 272.0C517.3 272.4 518.8 272.9 519.7 272.6C520.7 272.4 523.3 269.9 523.9 269.9C524.5 269.9 524.8 271.9 524.6 272.6C524.4 273.4 523.2 274.8 522.5 275.4C521.9 276.1 520.6 276.9 519.7 277.5C518.9 278.0 517.1 279.0 516.3 279.6C515.5 280.1 514.2 280.8 513.8 281.6C513.4 282.5 513.3 284.9 513.5 285.8C513.8 286.7 514.8 288.2 515.6 288.6C516.4 288.9 519.0 288.8 519.7 288.6C520.5 288.3 521.2 286.9 521.1 286.5C521.0 286.0 519.2 284.6 519.1 285.1C518.9 285.6 519.3 288.7 519.7 289.9C520.2 291.1 521.8 292.9 522.5 294.1C523.3 295.3 524.5 297.6 525.3 298.9C526.1 300.3 528.1 303.2 528.5 304.5C528.8 305.8 528.5 307.5 528.1 308.6C527.6 309.7 525.7 311.8 525.3 312.8C524.8 313.7 524.2 314.9 524.6 315.5C525.0 316.2 527.0 317.0 528.1 317.6C529.1 318.3 531.2 319.7 532.2 320.4C533.2 321.0 535.1 321.8 535.4 322.5C535.7 323.1 534.9 324.3 534.3 325.2C533.7 326.1 531.7 329.1 530.8 329.4C529.9 329.7 528.1 327.7 527.4 327.3C526.6 326.9 525.4 326.3 525.3 326.6C525.2 326.9 526.1 328.5 526.7 329.4C527.2 330.2 528.4 332.2 529.4 332.8C530.5 333.5 533.2 333.8 534.3 334.2C535.4 334.7 537.3 335.6 537.7 336.3C538.2 337.0 537.9 338.7 537.7 339.8C537.6 340.8 536.7 342.9 536.4 343.9C536.0 344.9 535.6 347.1 535.0 347.4C534.3 347.6 532.1 345.8 531.5 346.0C531.0 346.2 530.5 348.2 530.8 348.7C531.2 349.3 533.8 349.8 534.3 350.0M534.5 350.0C535.2 350.4 538.8 352.1 540.0 353.0C541.2 353.9 542.4 356.1 543.8 357.0C545.1 357.9 548.8 359.4 550.0 360.0C551.2 360.6 552.5 360.5 552.5 361.2C552.5 362.0 550.4 364.0 550.0 365.5C549.6 367.0 549.3 370.7 549.5 372.5C549.7 374.3 550.5 377.2 551.2 378.8C552.0 380.2 554.8 382.1 555.5 383.8C556.2 385.4 555.6 390.1 556.2 391.2C556.9 392.4 559.2 392.3 560.0 392.0C560.8 391.7 562.6 390.0 562.5 388.8C562.4 387.5 559.8 383.9 559.5 382.5C559.2 381.1 559.8 378.7 560.5 378.0C561.2 377.3 563.7 376.6 564.5 377.5C565.3 378.4 565.7 383.3 566.2 385.0C566.8 386.7 568.2 388.5 568.8 390.0C569.2 391.5 569.2 396.1 570.0 396.2C570.8 396.4 573.9 391.5 575.0 391.2C576.1 391.0 576.7 393.9 578.0 394.5C579.3 395.1 584.0 394.8 585.0 395.5C586.0 396.2 585.7 399.1 585.5 400.0C585.3 400.9 583.5 401.5 583.8 402.5C584.0 403.5 586.5 406.0 587.0 407.5C587.5 409.0 587.8 412.2 587.5 413.8C587.2 415.2 585.7 417.6 585.0 418.8C584.3 419.9 582.2 421.7 582.5 422.5C582.8 423.3 585.8 423.8 587.0 424.5C588.2 425.2 590.6 426.4 591.2 427.5C591.9 428.6 592.3 431.3 592.0 432.5C591.7 433.7 588.9 435.1 588.8 436.2C588.6 437.4 590.7 439.9 591.2 441.2C591.8 442.6 592.2 445.1 593.0 446.2C593.8 447.4 596.4 449.3 597.5 450.0C598.6 450.7 600.2 450.4 601.2 451.2C602.2 452.1 603.8 454.9 605.0 456.2C606.2 457.6 608.7 460.0 610.0 461.2C611.3 462.5 613.7 464.7 615.0 465.5C616.3 466.3 618.7 466.7 620.0 467.0C621.3 467.3 623.9 467.4 625.0 468.0C626.1 468.6 627.2 470.1 628.0 471.2C628.8 472.4 630.3 475.2 631.2 476.2C632.2 477.2 633.8 478.8 635.0 478.8C636.2 478.8 638.9 476.2 640.0 476.2C641.1 476.2 642.4 477.4 643.0 478.8C643.6 480.1 643.9 484.2 644.5 486.2C645.1 488.2 647.1 491.6 647.5 493.8C647.9 495.9 647.2 500.6 647.5 502.5C647.8 504.4 649.2 507.2 650.0 508.0C650.8 508.8 652.8 509.1 653.8 508.8C654.8 508.4 656.7 506.3 657.5 505.0C658.3 503.7 659.0 500.0 660.0 498.8C661.0 497.5 663.5 496.0 665.0 495.5C666.5 495.0 669.8 494.9 671.2 495.0C672.8 495.1 674.9 495.3 676.2 496.2C677.6 497.2 680.0 500.3 681.2 502.0C682.5 503.7 685.4 507.9 686.0 508.8M686.0 508.8C686.5 509.4 688.8 512.2 690.0 513.8C691.2 515.2 693.7 518.5 695.0 520.0C696.3 521.5 698.5 524.0 700.0 525.0C701.5 526.0 704.2 526.9 706.2 527.5C708.2 528.1 713.7 528.6 715.0 529.5C716.3 530.4 715.6 533.9 716.2 534.5C716.9 535.1 719.0 534.2 720.0 533.8C721.0 533.3 722.8 531.1 723.8 531.2C724.8 531.4 726.2 534.1 727.5 534.5C728.8 534.9 732.2 535.4 733.8 534.5C735.2 533.6 737.4 529.0 738.8 527.5C740.1 526.0 742.4 523.3 743.8 523.0C745.1 522.7 747.4 524.0 748.8 525.0C750.1 526.0 752.4 529.2 753.8 530.5C755.1 531.8 757.4 533.9 758.8 534.5C760.1 535.1 762.5 534.6 763.8 535.0C765.0 535.4 767.1 536.4 768.0 537.5C768.9 538.6 769.7 543.2 770.5 543.0C771.3 542.8 773.0 537.6 773.8 536.2C774.5 534.9 775.4 532.7 776.2 532.5C777.1 532.3 779.7 533.5 780.5 534.5C781.3 535.5 782.7 538.4 782.5 540.0C782.3 541.6 780.1 544.8 778.8 546.2C777.4 547.8 773.9 550.1 772.5 551.2C771.1 552.4 768.5 553.9 768.0 555.0C767.5 556.1 768.1 558.5 768.8 559.5C769.4 560.5 772.7 561.4 773.0 562.5C773.3 563.6 771.6 566.3 771.2 567.5C770.9 568.7 769.7 570.1 770.0 571.2C770.3 572.4 773.1 574.6 773.8 576.2C774.4 577.9 775.0 582.1 774.5 583.8C774.0 585.4 771.3 587.8 770.0 588.8C768.7 589.8 765.8 590.1 765.0 591.2C764.2 592.4 764.1 595.5 764.0 597.5C763.9 599.5 764.4 603.9 764.5 606.2C764.6 608.6 763.9 613.4 764.5 615.0C765.1 616.6 767.6 617.1 768.8 618.0C769.9 618.9 772.8 621.1 773.0 622.0C773.2 622.9 771.5 624.7 770.5 624.5C769.5 624.3 766.7 621.0 765.5 620.5C764.3 620.0 761.7 620.0 761.2 620.5C760.8 621.0 761.2 623.4 762.0 624.5C762.8 625.6 766.3 627.6 767.0 628.8C767.7 629.9 767.6 632.0 767.0 633.0C766.4 634.0 763.8 635.0 762.5 636.2C761.2 637.5 759.0 640.8 757.5 642.5C756.0 644.2 752.9 647.6 751.2 648.8C749.6 649.9 746.7 650.6 745.0 651.2C743.3 651.9 740.1 652.8 738.8 653.8C737.4 654.8 736.2 657.1 735.0 658.8C733.8 660.4 731.5 664.4 730.0 666.2C728.5 668.1 725.4 671.1 723.8 672.5C722.1 673.9 718.5 675.5 717.5 677.0C716.5 678.5 715.4 682.5 716.2 683.8C717.1 685.0 722.6 685.2 723.8 686.2C724.9 687.2 724.8 689.2 724.5 691.2C724.2 693.2 722.2 698.6 721.2 701.2C720.3 703.9 718.0 709.7 717.5 711.0M722.0 700.0C721.5 701.3 718.9 707.5 718.0 710.0C717.1 712.5 715.7 716.8 715.0 718.8C714.3 720.8 713.7 723.3 712.5 725.0C711.3 726.7 707.8 729.4 706.2 731.2C704.8 733.1 702.6 737.0 701.2 738.8C699.9 740.5 697.8 743.5 696.2 744.5C694.7 745.5 691.1 745.4 689.5 746.2C687.9 747.1 685.5 749.8 684.5 751.2C683.5 752.8 682.1 756.0 682.0 757.5C681.9 759.0 683.0 761.4 683.8 762.5C684.5 763.6 687.2 764.7 687.5 765.5C687.8 766.3 687.1 768.4 686.2 768.8C685.4 769.1 682.6 768.2 681.2 768.0C679.9 767.8 677.5 767.1 676.2 767.5C675.0 767.9 672.6 770.2 672.0 771.2C671.4 772.2 671.4 773.8 672.0 775.0C672.6 776.2 674.9 778.7 676.2 780.0C677.6 781.3 681.0 783.3 682.5 784.5C684.0 785.7 686.9 787.5 687.5 788.8C688.1 790.0 687.5 792.2 687.0 793.8C686.5 795.2 685.0 798.3 683.8 800.0C682.5 801.7 679.0 804.8 677.5 806.2C676.0 807.8 673.3 809.9 672.5 811.2C671.7 812.6 671.2 814.4 671.2 816.2C671.2 818.1 672.0 822.7 672.5 825.0C673.0 827.3 674.3 831.2 675.0 833.8C675.7 836.2 677.1 840.9 677.5 843.8C677.9 846.6 678.0 851.5 678.0 855.0C678.0 858.5 677.6 865.8 677.5 870.0C677.4 874.2 677.5 884.1 677.5 886.2M677.5 886.2 675.0 885.5 667.5 878.8 663.8 879.5 661.2 877.5 656.2 878.8 647.5 868.8 640.0 866.2 631.2 864.5 633.8 858.0 627.5 858.8 622.5 851.2 619.5 842.5 610.0 838.8 597.5 833.8 593.8 837.5 581.2 836.2 580.5 838.8 555.0 838.0 553.8 837.0 542.5 843.0 542.5 852.5 540.0 855.0M678.8 877.5C679.1 878.0 680.2 880.9 681.2 881.2C682.2 881.6 684.6 879.9 686.2 880.0C687.9 880.1 691.8 882.0 693.8 882.0C695.8 882.0 699.4 880.9 701.2 880.0C703.1 879.1 706.1 876.4 707.5 875.0C708.9 873.6 710.7 870.2 712.0 869.5C713.3 868.8 716.4 869.1 717.5 870.0C718.6 870.9 719.5 875.1 720.5 876.2C721.5 877.4 723.7 878.2 725.0 878.8C726.3 879.3 728.7 879.9 730.0 880.5C731.3 881.1 733.7 883.1 735.0 883.0C736.3 882.9 738.5 879.6 740.0 880.0C741.5 880.4 744.4 884.4 746.2 886.2C748.1 888.1 751.8 892.5 753.8 893.8C755.8 895.0 759.4 894.7 761.2 895.5C763.1 896.3 765.8 898.6 767.5 900.0C769.2 901.4 772.1 904.9 773.8 906.2C775.4 907.6 778.2 909.2 780.0 910.0C781.8 910.8 785.8 911.0 787.5 912.0C789.2 913.0 791.2 915.9 792.5 917.5C793.8 919.1 796.6 922.5 797.5 923.8C798.4 925.0 800.0 926.3 799.5 927.0C799.0 927.7 795.2 928.0 793.8 928.8C792.3 929.5 789.6 931.3 788.8 932.5C787.9 933.7 787.0 936.0 787.0 937.5C787.0 939.0 787.7 942.6 788.8 943.8C789.8 944.9 794.0 945.2 795.0 946.2C796.0 947.2 795.4 949.9 796.2 951.2C797.1 952.6 799.6 955.5 801.2 956.2C802.9 957.0 807.2 957.0 808.8 957.0C810.2 957.0 811.2 955.7 812.5 956.2C813.8 956.8 817.9 959.3 818.8 961.2C819.6 963.2 818.8 969.7 818.8 971.0M543.8 852.5 535.0 858.0 526.2 855.5 521.2 871.2 511.2 874.5 506.2 878.8 506.2 893.0 498.0 890.5 487.5 880.5 478.8 880.5 468.8 898.0 458.8 895.0 458.0 892.5 442.5 890.5 430.0 894.5 428.8 892.5 432.5 886.2 426.2 880.0 424.5 872.5 422.5 855.5 415.0 852.5 407.5 846.2 395.0 847.0 385.0 844.5 373.8 848.8 356.2 845.0 346.2 835.0 336.2 824.5 336.2 818.8 342.0 816.2 337.5 804.5 325.0 808.8 321.2 802.5 328.0 796.2 331.2 793.8 333.8 794.5 345.0 786.2 353.8 777.5 360.5 770.0 361.2 759.5 347.5 755.0 347.5 747.5 358.0 740.5 359.5 731.2 365.0 720.0 366.2 707.5 382.5 705.5 382.5 700.0M382.5 700.0 382.5 690.0 385.5 679.5 373.8 673.8M373.8 673.8C372.4 673.0 365.6 670.2 363.8 668.0C361.9 665.8 359.9 660.4 359.5 657.5C359.1 654.6 359.8 648.6 360.5 646.2C361.2 643.9 363.6 641.6 365.0 640.0C366.4 638.4 370.4 635.2 371.2 634.5M371.2 634.5 358.0 618.0 352.5 617.5 345.0 620.0 333.8 619.5 330.5 602.5 320.0 578.8 310.0 556.5 302.0 549.5 286.2 549.5 285.5 537.5 283.0 532.0 280.0 527.0 282.0 521.2 280.0 512.5 278.8 507.0 282.0 504.5 282.5 497.5 281.2 491.2 286.2 488.8 286.2 477.5 297.5 476.2 301.2 470.0 303.8 467.0 305.8 468.8 305.0 463.8 300.0 458.8 291.2 453.8 281.2 448.8M400.0 220.0 378.8 235.0 378.0 242.5 373.8 252.5 371.2 266.2M371.2 266.2C370.2 266.6 365.6 267.9 363.8 268.8C361.9 269.6 359.0 271.2 357.5 272.5C356.0 273.8 353.3 277.1 352.5 278.8C351.7 280.4 351.3 282.8 351.2 285.0C351.2 287.2 352.2 292.0 352.0 295.0C351.8 298.0 350.8 304.5 350.0 307.5C349.2 310.5 347.4 315.2 346.2 317.5C345.1 319.8 342.9 323.3 341.2 325.0C339.6 326.7 335.2 328.7 333.8 330.0C332.3 331.3 330.8 333.0 330.5 335.0C330.2 337.0 330.3 342.7 331.2 345.0C332.2 347.3 336.2 350.7 337.5 352.5C338.8 354.3 340.9 356.9 341.2 358.8C341.6 360.6 341.3 364.7 340.5 366.2C339.7 367.8 337.1 369.7 335.0 370.5C332.9 371.3 325.9 372.2 324.5 372.5M324.5 372.5 322.5 383.8 317.5 380.0 310.0 383.0 308.8 385.5 301.2 386.2 299.5 395.0 299.5 402.5 295.0 415.0 291.2 426.2 287.5 433.0 282.5 435.0 278.0 442.5 281.2 448.8M57.5 733.0 77.0 753.0 75.5 755.5 82.0 775.5 91.2 779.5 87.0 793.0 83.0 794.5 98.8 809.5 98.0 820.0 87.0 828.0 97.5 837.0 99.5 847.5 102.5 848.8 111.2 839.5 121.2 839.5 140.0 833.8 148.0 828.8 155.5 818.0 165.0 818.2 182.0 824.5 190.0 838.8 192.5 840.0 198.0 826.2 196.2 815.5 205.0 806.2 206.2 802.5 214.5 795.5 223.8 793.2 230.0 797.5 242.0 800.0 250.0 806.2 262.5 805.0 268.0 801.2 276.2 806.8 286.2 803.2 287.0 787.0 295.5 783.0 308.8 793.8 323.8 798.2M818.8 971.0C818.6 970.9 818.3 969.3 818.0 970.0C817.7 970.7 815.6 975.6 816.2 976.2C816.9 976.9 821.2 975.0 822.5 975.0C823.8 975.0 825.4 975.6 826.2 976.2C827.1 976.9 828.8 978.7 828.8 980.0C828.8 981.3 827.2 984.8 826.2 986.2C825.2 987.8 822.2 989.9 821.2 991.2C820.2 992.6 819.8 996.6 818.8 996.2C817.8 995.9 815.1 989.9 813.8 988.8C812.4 987.6 810.0 987.3 808.8 987.5C807.5 987.7 805.1 989.3 804.5 990.5C803.9 991.7 804.1 994.6 804.5 996.2C804.9 997.9 806.6 1001.2 807.5 1002.5C808.4 1003.8 810.4 1005.1 811.2 1006.2C812.1 1007.4 812.6 1010.8 813.8 1011.2C814.9 1011.8 818.6 1009.3 820.0 1010.0C821.4 1010.7 824.5 1014.4 824.5 1016.2C824.5 1018.1 819.8 1021.8 820.0 1023.8C820.2 1025.8 824.6 1029.4 826.2 1031.2C827.9 1033.1 831.0 1035.7 832.5 1037.5C834.0 1039.3 836.0 1044.2 837.5 1045.0C839.0 1045.8 842.8 1043.4 843.8 1043.8C844.8 1044.1 844.8 1047.0 845.0 1047.5" fill="none" stroke="#000" stroke-width="3.2" stroke-linejoin="round" stroke-linecap="round"/>
</g>
<rect x="57.5" y="45.5" width="899.0" height="1001.0" fill="none" stroke="#000" stroke-width="1.1"/>
<path d="M57.5 1046.5v5.2M185.5 1046.5v5.2M313.5 1046.5v5.2M442.5 1046.5v5.2M570.5 1046.5v5.2M699.5 1046.5v5.2M827.5 1046.5v5.2M956.5 1046.5v5.2M57.5 946.5h-5.2M57.5 746.5h-5.2M57.5 546.5h-5.2M57.5 346.5h-5.2M57.5 145.5h-5.2" stroke="#000" stroke-width="1.1" fill="none"/>
<text x="57.5" y="1070.6" font-size="17.7" text-anchor="middle" textLength="25.3" lengthAdjust="spacingAndGlyphs">5.4</text>
<text x="185.5" y="1070.6" font-size="17.7" text-anchor="middle" textLength="25.3" lengthAdjust="spacingAndGlyphs">5.6</text>
<text x="313.5" y="1070.6" font-size="17.7" text-anchor="middle" textLength="25.3" lengthAdjust="spacingAndGlyphs">5.8</text>
<text x="442.5" y="1070.6" font-size="17.7" text-anchor="middle" textLength="25.3" lengthAdjust="spacingAndGlyphs">6.0</text>
<text x="570.5" y="1070.6" font-size="17.7" text-anchor="middle" textLength="25.3" lengthAdjust="spacingAndGlyphs">6.2</text>
<text x="699.5" y="1070.6" font-size="17.7" text-anchor="middle" textLength="25.3" lengthAdjust="spacingAndGlyphs">6.4</text>
<text x="827.5" y="1070.6" font-size="17.7" text-anchor="middle" textLength="25.3" lengthAdjust="spacingAndGlyphs">6.6</text>
<text x="956.5" y="1070.6" font-size="17.7" text-anchor="middle" textLength="25.3" lengthAdjust="spacingAndGlyphs">6.8</text>
<text x="45" y="952.9" font-size="17.7" text-anchor="end" textLength="34.5" lengthAdjust="spacingAndGlyphs">49.4</text>
<text x="45" y="752.9" font-size="17.7" text-anchor="end" textLength="34.5" lengthAdjust="spacingAndGlyphs">49.6</text>
<text x="45" y="552.9" font-size="17.7" text-anchor="end" textLength="34.5" lengthAdjust="spacingAndGlyphs">49.8</text>
<text x="45" y="352.9" font-size="17.7" text-anchor="end" textLength="34.5" lengthAdjust="spacingAndGlyphs">50.0</text>
<text x="45" y="151.9" font-size="17.7" text-anchor="end" textLength="34.5" lengthAdjust="spacingAndGlyphs">50.2</text>
<text x="311.5" y="38.1" font-size="36.9" textLength="197.5" lengthAdjust="spacingAndGlyphs">29.01.2026</text>
<text x="521.2" y="38.1" font-size="36.9" textLength="98.5" lengthAdjust="spacingAndGlyphs">21:19</text>
<text x="631.0" y="38.1" font-size="36.9" textLength="71.5" lengthAdjust="spacingAndGlyphs">UTC</text>
<rect x="66.4" y="56.4" width="143.3" height="69.8" fill="#fff" fill-opacity="0.9" stroke="#000" stroke-width="1.1"/>
<text x="70.71" y="74.9" font-size="18.3" textLength="70.13" lengthAdjust="spacingAndGlyphs">Product:</text>
<text x="144.60" y="74.9" font-size="18.3" textLength="58.60" lengthAdjust="spacingAndGlyphs">PCAPPI</text>
<text x="70.55" y="95.65" font-size="18.3" textLength="61.67" lengthAdjust="spacingAndGlyphs">Height:</text>
<text x="136.77" y="95.65" font-size="18.3" textLength="40.57" lengthAdjust="spacingAndGlyphs">1000</text>
<text x="183.60" y="95.65" font-size="18.3" textLength="17.29" lengthAdjust="spacingAndGlyphs">m</text>
<text x="70.61" y="116.4" font-size="18.3" textLength="46.45" lengthAdjust="spacingAndGlyphs">Data:</text>
<text x="121.57" y="116.4" font-size="18.3" textLength="42.02" lengthAdjust="spacingAndGlyphs">RMIB</text>
<rect x="1012.7" y="964.42" width="44.9" height="32.58" fill="#6474a8"/>
<rect x="1012.7" y="932.24" width="44.9" height="32.58" fill="#5468a2"/>
<rect x="1012.7" y="900.05" width="44.9" height="32.58" fill="#4260a4"/>
<rect x="1012.7" y="867.87" width="44.9" height="32.58" fill="#4c7cb4"/>
<rect x="1012.7" y="835.69" width="44.9" height="32.58" fill="#5aa0c8"/>
<rect x="1012.7" y="803.51" width="44.9" height="32.58" fill="#60c0dc"/>
<rect x="1012.7" y="771.33" width="44.9" height="32.58" fill="#60d8c0"/>
<rect x="1012.7" y="739.14" width="44.9" height="32.58" fill="#3cd66c"/>
<rect x="1012.7" y="706.96" width="44.9" height="32.58" fill="#12c820"/>
<rect x="1012.7" y="674.78" width="44.9" height="32.58" fill="#10b61c"/>
<rect x="1012.7" y="642.60" width="44.9" height="32.58" fill="#0ea018"/>
<rect x="1012.7" y="610.41" width="44.9" height="32.58" fill="#0c8a14"/>
<rect x="1012.7" y="578.23" width="44.9" height="32.58" fill="#0a7210"/>
<rect x="1012.7" y="546.05" width="44.9" height="32.58" fill="#085a0c"/>
<rect x="1012.7" y="513.87" width="44.9" height="32.58" fill="#457a08"/>
<rect x="1012.7" y="481.69" width="44.9" height="32.58" fill="#b0b008"/>
<rect x="1012.7" y="449.50" width="44.9" height="32.58" fill="#ffd800"/>
<rect x="1012.7" y="417.32" width="44.9" height="32.58" fill="#ffb800"/>
<rect x="1012.7" y="385.14" width="44.9" height="32.58" fill="#ff9c00"/>
<rect x="1012.7" y="352.96" width="44.9" height="32.58" fill="#ff8000"/>
<rect x="1012.7" y="320.77" width="44.9" height="32.58" fill="#e00000"/>
<rect x="1012.7" y="288.59" width="44.9" height="32.58" fill="#c00000"/>
<rect x="1012.7" y="256.41" width="44.9" height="32.58" fill="#9e0000"/>
<rect x="1012.7" y="224.23" width="44.9" height="32.58" fill="#7d0000"/>
<rect x="1012.7" y="192.05" width="44.9" height="32.58" fill="#ffe0ff"/>
<rect x="1012.7" y="159.86" width="44.9" height="32.58" fill="#ffb3ff"/>
<rect x="1012.7" y="127.68" width="44.9" height="32.58" fill="#ff66fb"/>
<rect x="1012.7" y="95.50" width="44.9" height="32.58" fill="#ee30ee"/>
<rect x="1012.7" y="95.5" width="44.9" height="901.1" fill="none" stroke="#000" stroke-width="1.1"/>
<path d="M1057.6 996.6h5" stroke="#000" stroke-width="1.1"/>
<text x="1067.5" y="1007.1" font-size="29.4">0</text>
<path d="M1057.6 867.9h5" stroke="#000" stroke-width="1.1"/>
<text x="1067.5" y="878.4" font-size="29.4" textLength="34.3" lengthAdjust="spacingAndGlyphs">10</text>
<path d="M1057.6 739.1h5" stroke="#000" stroke-width="1.1"/>
<text x="1067.5" y="749.6" font-size="29.4" textLength="34.3" lengthAdjust="spacingAndGlyphs">20</text>
<path d="M1057.6 610.4h5" stroke="#000" stroke-width="1.1"/>
<text x="1067.5" y="620.9" font-size="29.4" textLength="34.3" lengthAdjust="spacingAndGlyphs">30</text>
<path d="M1057.6 481.7h5" stroke="#000" stroke-width="1.1"/>
<text x="1067.5" y="492.2" font-size="29.4" textLength="34.3" lengthAdjust="spacingAndGlyphs">40</text>
<path d="M1057.6 353.0h5" stroke="#000" stroke-width="1.1"/>
<text x="1067.5" y="363.5" font-size="29.4" textLength="34.3" lengthAdjust="spacingAndGlyphs">50</text>
<path d="M1057.6 224.2h5" stroke="#000" stroke-width="1.1"/>
<text x="1067.5" y="234.7" font-size="29.4" textLength="34.3" lengthAdjust="spacingAndGlyphs">60</text>
<path d="M1057.6 95.5h5" stroke="#000" stroke-width="1.1"/>
<text x="1067.5" y="106.0" font-size="29.4" textLength="34.3" lengthAdjust="spacingAndGlyphs">70</text>
<text transform="translate(1129.9 548.4) rotate(-90)" font-size="29.6" text-anchor="middle" textLength="53" lengthAdjust="spacingAndGlyphs">dBZ</text>
<path d="M393.2 376.7h8.4M397.4 372.5v8.4" stroke="#000" stroke-width="1.1" fill="none"/><text x="365.8" y="365.6" font-size="20.2" font-weight="bold" stroke="#000" stroke-width="0.45" textLength="53.4" lengthAdjust="spacingAndGlyphs">Wiltz</text><path d="M502.3 496.9h8.4M506.5 492.7v8.4" stroke="#000" stroke-width="1.1" fill="none"/><text x="475.0" y="485.8" font-size="20.2" font-weight="bold" stroke="#000" stroke-width="0.45" textLength="112.3" lengthAdjust="spacingAndGlyphs">Ettelbruck</text><path d="M573.1 719.7h8.4M577.3 715.5v8.4" stroke="#000" stroke-width="1.1" fill="none"/><text x="545.1" y="708.6" font-size="20.2" font-weight="bold" stroke="#000" stroke-width="0.45" textLength="67.0" lengthAdjust="spacingAndGlyphs">Findel</text><path d="M431.2 847.0h8.4M435.4 842.8v8.4" stroke="#000" stroke-width="1.1" fill="none"/><text x="403.9" y="835.9" font-size="20.2" font-weight="bold" stroke="#000" stroke-width="0.45" textLength="135.2" lengthAdjust="spacingAndGlyphs">Esch/Alzette</text><circle cx="125.8" cy="428.5" r="5.0" fill="#ff0000" stroke="#000" stroke-width="1.1"/>
</svg></body></html>
